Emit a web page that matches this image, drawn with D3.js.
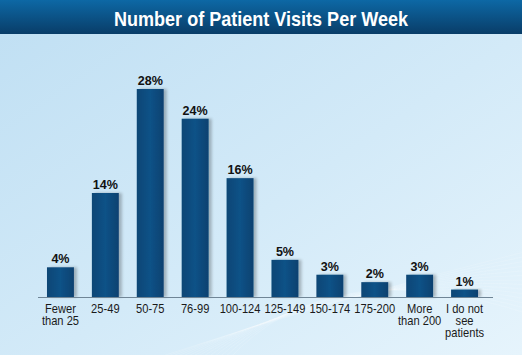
<!DOCTYPE html>
<html><head><meta charset="utf-8">
<script src="https://cdn.jsdelivr.net/npm/d3@7"></script>
<style>
html,body{margin:0;padding:0;overflow:hidden;background:#cfe7f6;}
svg{display:block;}
</style></head>
<body>
<svg id="chart" width="522" height="355"></svg>
<script>
const title = "Number of Patient Visits Per Week";
const categories = ["Fewer|than 25","25-49","50-75","76-99","100-124","125-149","150-174","175-200","More|than 200","I do not|see|patients"];
const values = [4,14,28,24,16,5,3,2,3,1];
const valueLabels = ["4%","14%","28%","24%","16%","5%","3%","2%","3%","1%"];

const W = 522, H = 355;
const FONT = "'Liberation Sans',Arial,sans-serif";
const svg = d3.select("#chart");
const defs = svg.append("defs");

// background gradient
const bg = defs.append("linearGradient").attr("id","bg").attr("x1","0").attr("y1","0").attr("x2","1").attr("y2","1");
bg.append("stop").attr("offset","0").attr("stop-color","#bfdff3");
bg.append("stop").attr("offset","0.55").attr("stop-color","#d3eaf8");
bg.append("stop").attr("offset","1").attr("stop-color","#e6f4fc");
svg.append("rect").attr("width",W).attr("height",H).attr("fill","url(#bg)");

// subtle swoosh lines bottom right
const sw = svg.append("g").attr("fill","none").attr("stroke","#ffffff").attr("stroke-opacity",0.18).attr("stroke-width",0.8);
for (let i=0;i<14;i++){
  sw.append("path").attr("d",`M${150+i*6},${H+5} Q${330},${300-i*4} ${W+10},${250+i*5}`);
}

// title bar
const tg = defs.append("linearGradient").attr("id","tg").attr("x1","0").attr("y1","0").attr("x2","0").attr("y2","1");
tg.append("stop").attr("offset","0").attr("stop-color","#0d68a5");
tg.append("stop").attr("offset","1").attr("stop-color","#093d68");
svg.append("rect").attr("width",W).attr("height",34).attr("fill","url(#tg)");
svg.append("text").attr("x",261).attr("y",25.5).attr("text-anchor","middle")
  .attr("fill","#ffffff").attr("font-family",FONT)
  .attr("font-weight","bold").attr("font-size",20.5).attr("textLength",294).attr("lengthAdjust","spacingAndGlyphs")
  .text(title);

// bar gradient
const bgG = defs.append("linearGradient").attr("id","barg").attr("x1","0").attr("y1","0").attr("x2","1").attr("y2","0");
bgG.append("stop").attr("offset","0").attr("stop-color","#0b4675");
bgG.append("stop").attr("offset","0.5").attr("stop-color","#0e5287");
bgG.append("stop").attr("offset","1").attr("stop-color","#0a4170");
const sh = defs.append("filter").attr("id","sh").attr("x","-30%").attr("y","-10%").attr("width","160%").attr("height","120%");
sh.append("feGaussianBlur").attr("in","SourceAlpha").attr("stdDeviation",1.5).attr("result","b");
sh.append("feOffset").attr("in","b").attr("dx",3).attr("dy",0).attr("result","o");
sh.append("feComponentTransfer").attr("in","o").attr("result","o2").append("feFuncA").attr("type","linear").attr("slope",0.25);
const m = sh.append("feMerge"); m.append("feMergeNode").attr("in","o2"); m.append("feMergeNode").attr("in","SourceGraphic");

const x = d3.scaleBand().domain(categories).range([38,487]).paddingInner(0.4).paddingOuter(0.2);
const y = d3.scaleLinear().domain([0,28]).range([297,89]);
const cx = d => x(d) + x.bandwidth()/2;

svg.append("g").selectAll("rect").data(values).join("rect")
  .attr("x",(d,i)=>x(categories[i])).attr("width",x.bandwidth())
  .attr("y",d=>y(d)).attr("height",d=>y(0)-y(d))
  .attr("fill","url(#barg)").attr("filter","url(#sh)");

// axis line
svg.append("line").attr("x1",38).attr("x2",493).attr("y1",297.5).attr("y2",297.5).attr("stroke","#6f8596").attr("stroke-width",1);

// value labels (condensed via horizontal scale)
svg.append("g").selectAll("text").data(values).join("text")
  .attr("transform",(d,i)=>`translate(${cx(categories[i])},${y(d)-4}) scale(0.93,1)`)
  .attr("text-anchor","middle").attr("fill","#111").attr("font-weight","bold")
  .attr("font-family",FONT).attr("font-size",13.5)
  .text((d,i)=>valueLabels[i]);

// category labels
const cl = svg.append("g").selectAll("text").data(categories).join("text")
  .attr("transform",d=>`translate(${cx(d)},312.5) scale(0.87,1)`)
  .attr("text-anchor","middle").attr("fill","#1a1a1a")
  .attr("font-family",FONT).attr("font-size",12.8);
cl.each(function(d){
  const parts = d.split("|");
  d3.select(this).selectAll("tspan").data(parts).join("tspan")
    .attr("x",0).attr("dy",(p,j)=>j===0?0:12.5).text(p=>p);
});
</script>
</body></html>
